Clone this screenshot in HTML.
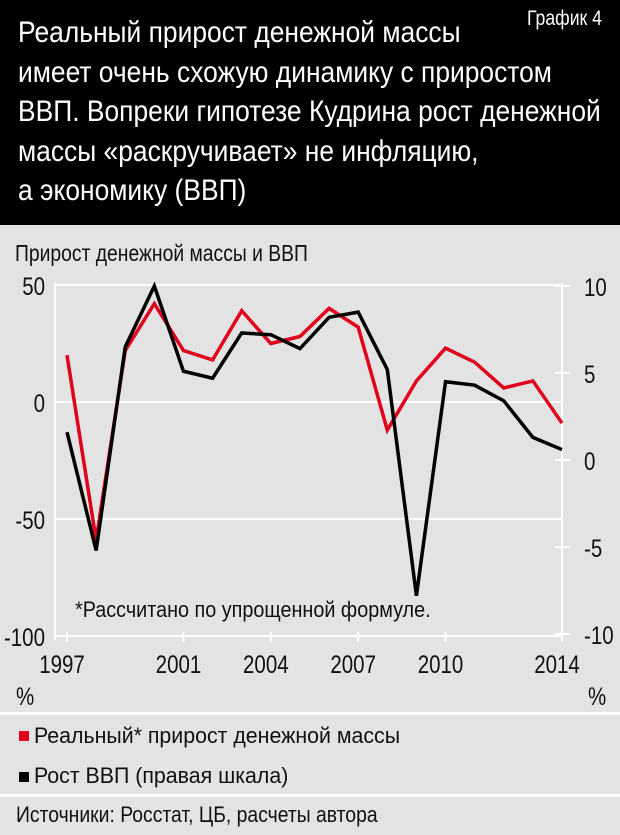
<!DOCTYPE html>
<html><head><meta charset="utf-8"><style>
body{margin:0;width:620px;height:835px;background:#e3e3e3;font-family:"Liberation Sans",sans-serif;position:relative;overflow:hidden;color:#111}
.t{position:absolute;white-space:nowrap;transform-origin:0 0;transform:scaleX(0.84)}
#hdr{position:absolute;left:0;top:0;width:620px;height:225px;background:#000}
</style></head><body>
<div id="hdr">
<div class="t" style="left:18px;top:13px;color:#fff;font-size:30px;line-height:39.5px;transform:scaleX(0.88)">Реальный прирост денежной массы<br>имеет очень схожую динамику с приростом<br>ВВП. Вопреки гипотезе Кудрина рост денежной<br>массы «раскручивает» не инфляцию,<br>а экономику (ВВП)</div>
<div class="t" style="left:527px;top:7px;color:#fff;font-size:21px">График 4</div>
</div>
<div class="t" style="left:15px;top:240px;font-size:23px">Прирост денежной массы и ВВП</div>
<svg id="ch" width="620" height="835" style="position:absolute;left:0;top:0"></svg>
<div class="t" style="left:75px;top:597px;font-size:22px;transform:scaleX(0.9)">*Рассчитано по упрощенной формуле.</div>
<div style="position:absolute;left:0;top:712px;width:620px;height:3px;background:#fff"></div>
<div style="position:absolute;left:0;top:794px;width:620px;height:3px;background:#fff"></div>
<div style="position:absolute;left:19px;top:731px;width:10px;height:10px;background:#e0001b"></div>
<div class="t" style="left:34px;top:723px;font-size:22px;transform:scaleX(0.97)">Реальный* прирост денежной массы</div>
<div style="position:absolute;left:19px;top:772px;width:10px;height:10px;background:#000"></div>
<div class="t" style="left:34px;top:763px;font-size:22px;transform:scaleX(0.97)">Рост ВВП (правая шкала)</div>
<div class="t" style="left:16px;top:802px;font-size:22px;transform:scaleX(0.88)">Источники: Росстат, ЦБ, расчеты автора</div>
<script>
const years=[1997,1998,1999,2000,2001,2002,2003,2004,2005,2006,2007,2008,2009,2010,2011,2012,2013,2014];
const money=[20,-59,22,42,22,18,39,25,28,40,32,-12,9,23,17,6,9,-9];
const gdp=[1.6,-5.2,6.5,10,5.1,4.7,7.3,7.2,6.4,8.2,8.5,5.2,-7.8,4.5,4.3,3.4,1.3,0.6];
const leftTicks=[50,0,-50,-100];
const rightTicks=[10,5,0,-5,-10];
const xLabels=[1997,2001,2004,2007,2010,2014];
const NS="http://www.w3.org/2000/svg",svg=document.getElementById('ch');
const x=y=>67+(y-1997)*(562-67)/17;
const yl=v=>402-v*2.34;
const yr=v=>460-v*17.4;
function mk(t,a){const e=document.createElementNS(NS,t);for(const k in a)e.setAttribute(k,a[k]);svg.appendChild(e);return e;}
function txt(s,tx,ty,anchor){const e=mk('text',{x:0,y:0,'font-size':25,'text-anchor':anchor,'font-family':'Liberation Sans',fill:'#111',transform:'translate('+tx+','+ty+') scale(0.82,1)'});e.textContent=s;return e;}
let e;
leftTicks.forEach(v=>{
e=mk('line',{x1:55,x2:562,y1:yl(v),y2:yl(v),stroke:'#fff','stroke-width':2});


e=txt(v,45,yl(v)+10,'end');


});
rightTicks.forEach(v=>{
e=mk('line',{x1:555,x2:570,y1:yr(v),y2:yr(v),stroke:'#fff','stroke-width':2});


e=txt(v,584,yr(v)+10,'start');


});
e=mk('line',{x1:55,x2:55,y1:283,y2:640,stroke:'#fff','stroke-width':2});


e=mk('line',{x1:562,x2:562,y1:283,y2:640,stroke:'#fff','stroke-width':2});


xLabels.forEach(v=>{
e=mk('line',{x1:x(v),x2:x(v),y1:632,y2:642,stroke:'#fff','stroke-width':2});


e=txt(v,x(v)-5,673,'middle');


});
e=txt('%',16,705,'start');


e=txt('%',588,705,'start');


e=mk('polyline',{points:years.map((y,i)=>x(y)+','+yl(money[i])).join(' '),fill:'none',stroke:'#e0001b','stroke-width':3.5,'stroke-linejoin':'miter'});


e=mk('polyline',{points:years.map((y,i)=>x(y)+','+yr(gdp[i])).join(' '),fill:'none',stroke:'#000','stroke-width':3.5,'stroke-linejoin':'miter'});


</script>
</body></html>
